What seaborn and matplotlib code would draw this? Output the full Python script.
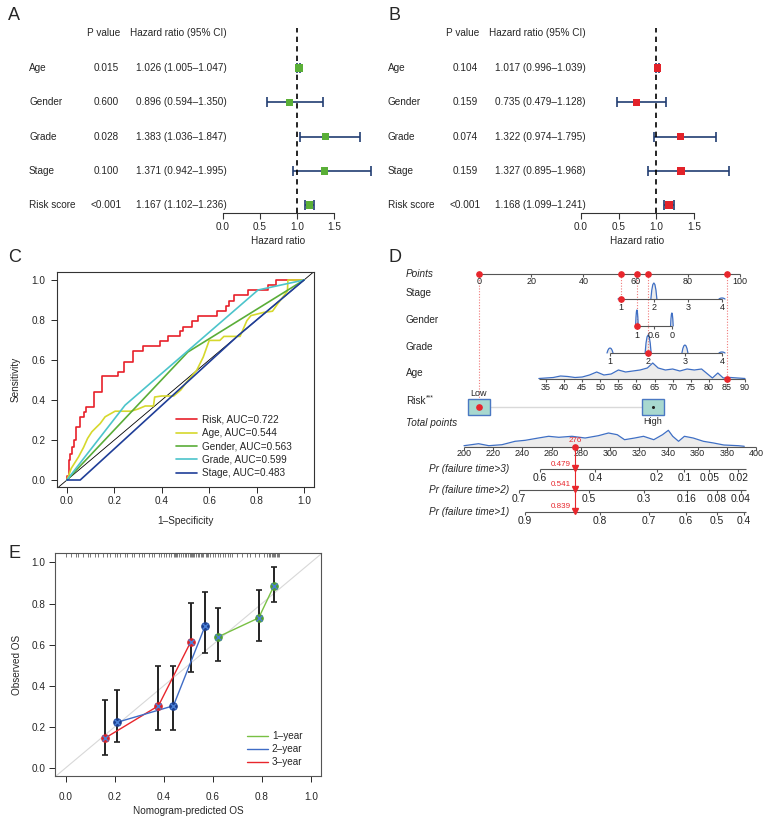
import numpy as np
import matplotlib
matplotlib.use("Agg")
import matplotlib.pyplot as plt
import seaborn as sns
from matplotlib.lines import Line2D
from matplotlib.patches import Rectangle
from matplotlib.transforms import blended_transform_factory

# ---------------- data ----------------
# A / B forest plots (univariate / multivariate Cox)
variables = ["Age", "Gender", "Grade", "Stage", "Risk score"]
uni_p = ["0.015", "0.600", "0.028", "0.100", "<0.001"]
uni_hr = [1.026, 0.896, 1.383, 1.371, 1.167]
uni_lo = [1.005, 0.594, 1.036, 0.942, 1.102]
uni_hi = [1.047, 1.350, 1.847, 1.995, 1.236]
multi_p = ["0.104", "0.159", "0.074", "0.159", "<0.001"]
multi_hr = [1.017, 0.735, 1.322, 1.327, 1.168]
multi_lo = [0.996, 0.479, 0.974, 0.895, 1.099]
multi_hi = [1.039, 1.128, 1.795, 1.968, 1.241]

# C ROC curves
risk_fpr = [0, 0, 0.008, 0.014, 0.021, 0.031, 0.038, 0.056, 0.070, 0.081, 0.116, 0.147, 0.217, 0.241, 0.278,
            0.320, 0.393, 0.428, 0.477, 0.488, 0.526, 0.554, 0.631, 0.669, 0.684, 0.704, 0.764, 0.849, 0.881, 1.0]
risk_tpr = [0, 0.02, 0.10, 0.13, 0.166, 0.20, 0.266, 0.316, 0.34, 0.365, 0.44, 0.518, 0.54, 0.59, 0.645,
            0.668, 0.694, 0.718, 0.744, 0.767, 0.794, 0.822, 0.844, 0.872, 0.897, 0.925, 0.95, 0.975, 1.0, 1.0]
age_fpr = [0, 0.018, 0.049, 0.07, 0.087, 0.105, 0.126, 0.14, 0.161, 0.203, 0.27, 0.30, 0.33, 0.365, 0.37, 0.40,
           0.45, 0.48, 0.505, 0.547, 0.575, 0.60, 0.645, 0.662, 0.73, 0.759, 0.776, 0.83, 0.867, 0.888, 0.93,
           0.932, 1.0]
age_tpr = [0, 0.058, 0.116, 0.163, 0.208, 0.241, 0.266, 0.282, 0.316, 0.344, 0.344, 0.355, 0.37, 0.37, 0.415,
           0.42, 0.42, 0.45, 0.49, 0.548, 0.615, 0.698, 0.698, 0.718, 0.718, 0.797, 0.822, 0.838, 0.844, 0.88,
           0.945, 1.0, 1.0]
gender_fpr = [0, 0.51, 1.0]
gender_tpr = [0, 0.64, 1.0]
grade_fpr = [0, 0.245, 0.806, 1.0]
grade_tpr = [0, 0.374, 0.95, 1.0]
stage_fpr = [0, 0.056, 0.72, 1.0]
stage_tpr = [0, 0, 0.72, 1.0]
roc_labels = ["Risk, AUC=0.722", "Age, AUC=0.544", "Gender, AUC=0.563", "Grade, AUC=0.599", "Stage, AUC=0.483"]

# D nomogram
points_ticks = [0, 20, 40, 60, 80, 100]
stage_levels = ["1", "2", "3", "4"]
stage_pts = [54.4, 67.0, 80.1, 93.1]
stage_dens = [1, 16, 0, 1]
gender_ticks = ["1", "0.6", "0"]
gender_pts = [60.5, 67.0, 73.9]
gender_dens = [16, 0, 13]
grade_levels = ["1", "2", "3", "4"]
grade_pts = [50.2, 64.8, 78.9, 93.1]
grade_dens = [5, 18, 8, 1]
age_ticks = [35, 40, 45, 50, 55, 60, 65, 70, 75, 80, 85, 90]
age_span = (35, 90)
age_pts_span = (25.7, 101.9)
age_grid = [33, 35, 37, 39, 41, 43, 45, 47, 49, 51, 53, 55, 57, 59, 61, 63, 64.5, 66, 68, 70, 72, 74, 76,
            78, 80, 81, 82.5, 84, 86, 88, 90]
age_dens = [0.5, 1, 1.5, 3, 2.5, 1.5, 2, 4, 7, 4, 5, 9, 7, 8, 9, 11, 16, 11, 9, 10, 8, 10, 9, 10, 4, 1, 6,
            1, 1.5, 1, 0.5]
risk_levels = ["Low", "High"]
risk_pts = [0, 66.7]
total_ticks = [200, 220, 240, 260, 280, 300, 320, 340, 360, 380, 400]
total_grid = [200, 210, 217, 226, 235, 242, 251, 258, 265, 274, 283, 292, 299, 305, 310, 317, 323, 330, 336,
              340, 343, 347, 351, 357, 364, 371, 378, 388, 392]
total_dens = [1.3, 3.3, 1.3, 2.3, 5.7, 6.7, 9, 10.7, 9.7, 10.7, 9, 11.3, 14, 12.3, 7.3, 9, 10.7, 7.3, 12.3,
              16.7, 10.7, 5.7, 10.7, 9, 5.7, 4, 2, 1.3, 0.7]
pr_labels = ["Pr (failure time>3)", "Pr (failure time>2)", "Pr (failure time>1)"]
pr_ticks = [["0.6", "0.4", "0.2", "0.1", "0.05", "0.02"],
            ["0.7", "0.5", "0.3", "0.16", "0.08", "0.04"],
            ["0.9", "0.8", "0.7", "0.6", "0.5", "0.4"]]
pr_tick_total = [[252, 290, 332, 351, 368, 388],
                 [237.7, 285.6, 323, 352.7, 373, 389.7],
                 [241.8, 293, 326.7, 352, 373, 391.8]]
pr_axis_end = 393.5
# example patient
pt_points = [0, 54.4, 60.5, 64.8, 95.0]   # risk, stage, gender, grade, age
pt_total = 276
pt_prob = ["0.479", "0.541", "0.839"]

# E calibration
cal_x = {"1-year": [0.622, 0.787, 0.849], "2-year": [0.208, 0.439, 0.568], "3-year": [0.158, 0.378, 0.510]}
cal_y = {"1-year": [0.638, 0.730, 0.886], "2-year": [0.221, 0.302, 0.690], "3-year": [0.143, 0.302, 0.614]}
cal_lo = {"1-year": [0.521, 0.618, 0.808], "2-year": [0.127, 0.183, 0.557], "3-year": [0.062, 0.183, 0.468]}
cal_hi = {"1-year": [0.779, 0.865, 0.979], "2-year": [0.378, 0.497, 0.854], "3-year": [0.330, 0.497, 0.804]}
rug = [0.00, 0.02, 0.04, 0.05, 0.07, 0.09, 0.10, 0.12, 0.13, 0.15, 0.17, 0.18, 0.20, 0.21, 0.22, 0.24, 0.25,
       0.27, 0.28, 0.30, 0.31, 0.32, 0.34, 0.35, 0.36, 0.38, 0.39, 0.40, 0.41, 0.42, 0.43, 0.44, 0.445, 0.45,
       0.455, 0.46, 0.47, 0.48, 0.485, 0.49, 0.50, 0.505, 0.51, 0.515, 0.52, 0.525, 0.53, 0.54, 0.545, 0.55,
       0.555, 0.56, 0.57, 0.575, 0.58, 0.59, 0.60, 0.61, 0.62, 0.63, 0.64, 0.65, 0.66, 0.67, 0.68, 0.70, 0.72,
       0.74, 0.75, 0.77, 0.79, 0.81, 0.82, 0.83, 0.835, 0.84, 0.845, 0.85, 0.855, 0.86, 0.865, 0.87]

# ---------------- style ----------------
sns.set_theme(style="white")
plt.rcParams["font.family"] = ["Liberation Sans", "DejaVu Sans"]
FS = 7.2
NAVY = "#213d72"
W, H = 784, 819

fig = plt.figure(figsize=(W / 100, H / 100), dpi=100)


def box(x0, y0, x1, y1):
    # axes from pixel corners (top-left origin)
    return fig.add_axes([x0 / W, 1 - y1 / H, (x1 - x0) / W, (y1 - y0) / H])


def letter(px, py, s):
    fig.text(px / W, 1 - py / H, s, fontsize=13, ha="left", va="center")


# ---------------- A / B ----------------
def forest(x0, x1, shift, pvals, hr, lo, hi, color):
    ax = box(x0, 25, x1, 213)
    hr, lo, hi = np.array(hr), np.array(lo), np.array(hi)
    rows = np.arange(len(variables))
    ax.errorbar(hr, rows, xerr=[hr - lo, hi - hr], fmt="none", ecolor=NAVY,
                elinewidth=1.2, capsize=3.5, capthick=1.2)
    sns.scatterplot(x=hr, y=rows, marker="s", color=color, s=30, edgecolor="none", zorder=3, ax=ax)
    for art in ax.collections + ax.lines:
        art.set_clip_on(False)
    ax.axvline(1.0, ymin=0, ymax=0.984, color="black", lw=1.2, ls=(0, (3.2, 2.5)))
    ax.set_xlim(0, 1.5)
    ax.set_ylim(4.23, -1.26)
    for s in ["top", "left", "right"]:
        ax.spines[s].set_visible(False)
    ax.spines["bottom"].set_bounds(0, 1.5)
    ax.spines["bottom"].set_linewidth(0.8)
    ax.spines["bottom"].set_color("#333333")
    ax.set_yticks([])
    ax.set_xticks([0, 0.5, 1.0, 1.5])
    ax.set_xticklabels(["0.0", "0.5", "1.0", "1.5"])
    ax.tick_params(axis="x", bottom=True, length=4.5, width=0.8, color="#333333", labelsize=FS, pad=2)
    ax.set_xlabel("Hazard ratio", fontsize=FS, labelpad=3)
    tr = blended_transform_factory(fig.transFigure, ax.transData)
    ax.text((104 + shift) / W, -1.02, "P value", transform=tr, ha="center", va="center", fontsize=FS)
    ax.text((130 + shift) / W, -1.02, "Hazard ratio (95% CI)", transform=tr, ha="left", va="center", fontsize=FS)
    for i, v in enumerate(variables):
        ax.text((29 + shift) / W, i, v, transform=tr, ha="left", va="center", fontsize=FS)
        ax.text((106 + shift) / W, i, pvals[i], transform=tr, ha="center", va="center", fontsize=FS)
        ax.text((136 + shift) / W, i, f"{hr[i]:.3f} ({lo[i]:.3f}\u2013{hi[i]:.3f})", transform=tr,
                ha="left", va="center", fontsize=FS)


forest(223, 334, 0, uni_p, uni_hr, uni_lo, uni_hi, "#5aaf37")
forest(581, 694, 359, multi_p, multi_hr, multi_lo, multi_hi, "#e2222a")
letter(8, 15, "A")
letter(388, 15, "B")

# ---------------- C ----------------
axc = box(57, 272, 314, 487)
roc_colors = ["#e8202a", "#d6d82c", "#5aad38", "#4cc4cb", "#1f3e98"]
roc_curves = [(risk_fpr, risk_tpr), (age_fpr, age_tpr), (gender_fpr, gender_tpr),
              (grade_fpr, grade_tpr), (stage_fpr, stage_tpr)]
axc.axline((0, 0), (1, 1), color="black", lw=0.6)
for i, (fx_, ty_) in enumerate(roc_curves):
    sns.lineplot(x=fx_, y=ty_, ax=axc, color=roc_colors[i], lw=1.2, estimator=None, sort=False,
                 drawstyle="steps-post" if i == 0 else "default")
axc.set_xlim(-0.042, 1.042)
axc.set_ylim(-0.035, 1.04)
ticks = np.arange(0, 1.01, 0.2)
axc.set_xticks(ticks)
axc.set_yticks(ticks)
axc.set_xticklabels([f"{t:.1f}" for t in ticks])
axc.set_yticklabels([f"{t:.1f}" for t in ticks])
axc.tick_params(bottom=True, left=True, length=4.5, width=0.7, labelsize=FS)
axc.tick_params(axis="x", pad=2)
axc.tick_params(axis="y", pad=4)
for s in axc.spines.values():
    s.set_color("#333333")
    s.set_linewidth(0.8)
axc.set_xlabel("1\u2013Specificity", fontsize=FS)
axc.set_ylabel("Sensitivity", fontsize=FS)
axc.xaxis.set_label_coords(0.5, -0.135)
axc.yaxis.set_label_coords(-0.14, 0.5)
handles = [Line2D([], [], color=c, lw=1.2) for c in roc_colors]
axc.legend(handles, roc_labels, loc="upper left", bbox_to_anchor=(0.463, 0.335), frameon=False, fontsize=FS,
           handlelength=2.1, handletextpad=0.5, labelspacing=0.33, borderpad=0, borderaxespad=0)
letter(8, 257, "C")

# ---------------- D ----------------
axd = box(392, 255, 784, 535)
axd.set_xlim(-33.33, 116.86)
axd.set_ylim(535, 255)
axd.axis("off")
AX_C = "#555555"
DENS_C = "#3f6fc4"
FILL_C = "#ececec"
RED = "#e8262c"
LRED = "#f07a7a"
px2pt = 1 / 2.61  # pixels -> points units on the x axis
row_y = {"Points": 274, "Stage": 299, "Gender": 326, "Grade": 353, "Age": 379, "Risk": 407, "Total": 447}
pr_y = [469, 490, 512]
label_x = (406 - 479) * px2pt


def tp2x(tp):
    return -5.75 + (np.asarray(tp, dtype=float) - 200) * 0.5593


def nomo_axis(xs, labels, y, fs=6.5, off=8, x_from=None, x_to=None):
    a = min(xs) if x_from is None else x_from
    b = max(xs) if x_to is None else x_to
    axd.plot([a, b], [y, y], color=AX_C, lw=0.8, solid_capstyle="butt")
    axd.vlines(xs, y, y + 2.5, color=AX_C, lw=0.8)
    for xv, lab in zip(xs, labels):
        axd.text(xv, y + off, lab, ha="center", va="center", fontsize=fs, color="#222222")


def bumps(centers, heights, y, hw_px=3.0):
    shape_x = np.array([-1, -0.7, -0.35, 0, 0.35, 0.7, 1])
    shape_y = np.array([0, 0.55, 0.9, 1, 0.9, 0.55, 0])
    for c, h in zip(centers, heights):
        if h <= 0:
            continue
        xs = c + shape_x * hw_px * px2pt
        axd.fill_between(xs, y, y - h * shape_y, color=FILL_C, lw=0)
        axd.plot(xs, y - h * shape_y, color=DENS_C, lw=0.9)


# row labels
axd.text(label_x, row_y["Points"], "Points", style="italic", ha="left", va="center", fontsize=FS)
axd.text(label_x, 293, "Stage", ha="left", va="center", fontsize=FS)
axd.text(label_x, 320, "Gender", ha="left", va="center", fontsize=FS)
axd.text(label_x, 347, "Grade", ha="left", va="center", fontsize=FS)
axd.text(label_x, 373, "Age", ha="left", va="center", fontsize=FS)
axd.text(label_x, 401, "Risk", ha="left", va="center", fontsize=FS)
axd.text(label_x + 7.6, 398, "***", ha="left", va="center", fontsize=5)
axd.text(label_x, 423, "Total points", style="italic", ha="left", va="center", fontsize=FS)

# points scale
nomo_axis(points_ticks, [str(t) for t in points_ticks], row_y["Points"], off=8)
# stage
bumps(stage_pts, stage_dens, row_y["Stage"])
nomo_axis(stage_pts, stage_levels, row_y["Stage"], off=8)
# gender
bumps(gender_pts, gender_dens, row_y["Gender"], hw_px=1.3)
nomo_axis(gender_pts, gender_ticks, row_y["Gender"], off=9)
# grade
bumps(grade_pts, grade_dens, row_y["Grade"])
nomo_axis(grade_pts, grade_levels, row_y["Grade"], off=8)
# age
age_slope = (age_pts_span[1] - age_pts_span[0]) / (age_span[1] - age_span[0])
age_x = age_pts_span[0] + (np.array(age_grid) - age_span[0]) * age_slope
axd.fill_between(age_x, row_y["Age"], row_y["Age"] - np.array(age_dens), color=FILL_C, lw=0)
axd.plot(age_x, row_y["Age"] - np.array(age_dens), color=DENS_C, lw=0.9)
age_tick_x = age_pts_span[0] + (np.array(age_ticks) - age_span[0]) * age_slope
nomo_axis(age_tick_x, [str(a) for a in age_ticks], row_y["Age"], off=8, x_from=age_x[0])
# risk boxes
axd.plot(risk_pts, [row_y["Risk"]] * 2, color="#d9d9d9", lw=1.0, zorder=1)
bw = 22 * px2pt
for xv, lab in zip(risk_pts, risk_levels):
    axd.add_patch(Rectangle((xv - bw / 2, row_y["Risk"] - 8), bw, 16, facecolor="#a8d8cf",
                            edgecolor="#4a78c2", lw=1.0, zorder=2))
    axd.text(xv, row_y["Risk"] - 14 if lab == "Low" else row_y["Risk"] + 15, lab, ha="center",
             va="center", fontsize=6.5)
axd.plot(risk_pts[1], row_y["Risk"], "o", color="#222222", ms=1.2, zorder=3)
# total points
tot_x = tp2x(total_grid)
axd.fill_between(tot_x, row_y["Total"], row_y["Total"] - np.array(total_dens), color=FILL_C, lw=0)
axd.plot(tot_x, row_y["Total"] - np.array(total_dens), color=DENS_C, lw=0.9)
nomo_axis(tp2x(total_ticks), [str(t) for t in total_ticks], row_y["Total"], off=7)
# probability scales
for k in range(3):
    axd.text((509 - 479) * px2pt, pr_y[k], pr_labels[k], style="italic",
             ha="right", va="center", fontsize=FS)
    nomo_axis(tp2x(pr_tick_total[k]), pr_ticks[k], pr_y[k], fs=7.4, off=9, x_to=tp2x(pr_axis_end))

# patient path
pt_rows = [row_y["Risk"], row_y["Stage"], row_y["Gender"], row_y["Grade"], row_y["Age"]]
for xv, yv in zip(pt_points, pt_rows):
    axd.plot([xv, xv], [row_y["Points"], yv], color=LRED, lw=0.8, ls=(0, (1, 1.5)), zorder=1)
axd.plot(pt_points, [row_y["Points"]] * len(pt_points), "o", color=RED, ms=3.8, zorder=4)
axd.plot(pt_points, pt_rows, "o", color=RED, ms=3.8, zorder=4)
tx = tp2x(pt_total)
axd.plot([tx, tx], [row_y["Total"], pr_y[-1]], color=RED, lw=0.8, zorder=3)
axd.plot(tx, row_y["Total"], "o", color=RED, ms=3.8, zorder=4)
axd.text(tx, row_y["Total"] - 7, str(pt_total), color=RED, ha="center", va="center", fontsize=5.8)
for k in range(3):
    axd.plot(tx, pr_y[k] - 1.5, "v", color=RED, ms=4, zorder=4)
    axd.text(tx - 1.5, pr_y[k] - 5, pt_prob[k], color=RED, ha="right", va="center", fontsize=5.8)
letter(388, 257, "D")

# ---------------- E ----------------
axe = box(55, 553, 321, 776)
axe.axline((0, 0), (1, 1), color="#d8d8d8", lw=0.8, zorder=0)
axe.vlines(rug, 1.026, 1.046, color="#444444", lw=0.5)
line_c = {"1-year": "#78c043", "2-year": "#3f6cc6", "3-year": "#e8262c"}
dot_c = {"1-year": "#4f9e35", "2-year": "#1c3f8f", "3-year": "#d8232a"}
for key in ["3-year", "2-year", "1-year"]:
    x = np.array(cal_x[key])
    y = np.array(cal_y[key])
    axe.errorbar(x, y, yerr=[y - np.array(cal_lo[key]), np.array(cal_hi[key]) - y], fmt="none",
                 ecolor="#222222", elinewidth=1.4, capsize=2.5, capthick=1.2, zorder=2)
for key in ["3-year", "2-year", "1-year"]:
    sns.lineplot(x=cal_x[key], y=cal_y[key], ax=axe, color=line_c[key], lw=1.0, estimator=None,
                 sort=False, zorder=3)
for key in ["3-year", "2-year", "1-year"]:
    axe.plot(cal_x[key], cal_y[key], "o", color=dot_c[key], ms=5.2, zorder=4)
    axe.plot(cal_x[key], cal_y[key], "x", color="#4a7fd6", ms=4.2, mew=1.0, zorder=5)
axe.set_xlim(-0.044, 1.041)
axe.set_ylim(-0.04, 1.046)
axe.set_xticks(ticks)
axe.set_yticks(ticks)
axe.set_xticklabels([f"{t:.1f}" for t in ticks])
axe.set_yticklabels([f"{t:.1f}" for t in ticks])
axe.tick_params(bottom=True, left=True, length=4.5, width=0.7, labelsize=FS)
axe.tick_params(axis="x", pad=7)
axe.tick_params(axis="y", pad=2.5)
for s in axe.spines.values():
    s.set_color("#555555")
    s.set_linewidth(0.8)
axe.set_xlabel("Nomogram-predicted OS", fontsize=FS)
axe.set_ylabel("Observed OS", fontsize=FS)
axe.xaxis.set_label_coords(0.5, -0.135)
axe.yaxis.set_label_coords(-0.124, 0.5)
leg_h = [Line2D([], [], color=line_c[k], lw=1.0) for k in ["1-year", "2-year", "3-year"]]
axe.legend(leg_h, ["1\u2013year", "2\u2013year", "3\u2013year"], loc="lower right",
           bbox_to_anchor=(0.93, 0.04), frameon=False, fontsize=FS, handlelength=2.1,
           handletextpad=0.4, labelspacing=0.3, borderpad=0, borderaxespad=0)
letter(8, 553, "E")

fig.savefig("out.png", dpi=100)
